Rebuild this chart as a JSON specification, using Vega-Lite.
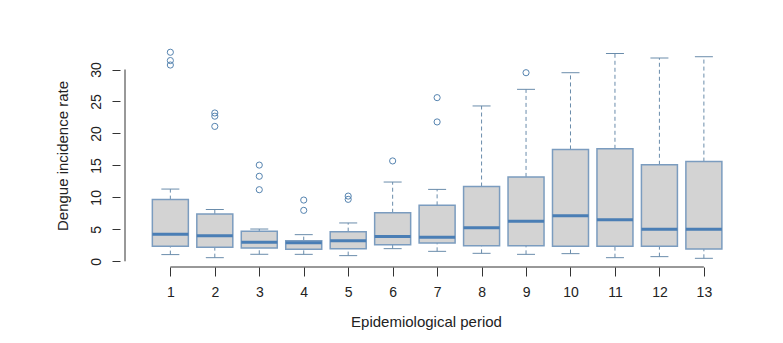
{
  "$schema": "https://vega.github.io/schema/vega-lite/v6.json",
  "width": 612,
  "height": 223,
  "autosize": {"type": "none"},
  "padding": {"left": 120, "top": 44, "right": 51, "bottom": 76},
  "background": "white",
  "config": {
    "view": {"stroke": null},
    "font": "Liberation Sans",
    "axis": {"grid": false, "domain": false, "labelFont": "Liberation Sans", "titleFont": "Liberation Sans", "labelColor": "#222", "titleColor": "#222", "tickColor": "#333", "titleFontWeight": "normal", "labelFontSize": 14, "titleFontSize": 15, "labelOverlap": false}
  },
  "datasets": {
    "boxes": [
      {"period": 1, "lower": 1.05, "q1": 2.35, "median": 4.25, "q3": 9.65, "upper": 11.3},
      {"period": 2, "lower": 0.57, "q1": 2.2, "median": 4.0, "q3": 7.4, "upper": 8.1},
      {"period": 3, "lower": 1.1, "q1": 2.1, "median": 3.0, "q3": 4.7, "upper": 5.05},
      {"period": 4, "lower": 1.09, "q1": 1.87, "median": 2.9, "q3": 3.23, "upper": 4.17},
      {"period": 5, "lower": 0.89, "q1": 1.98, "median": 3.23, "q3": 4.64, "upper": 6.0},
      {"period": 6, "lower": 1.98, "q1": 2.6, "median": 3.9, "q3": 7.6, "upper": 12.4},
      {"period": 7, "lower": 1.56, "q1": 2.86, "median": 3.75, "q3": 8.75, "upper": 11.25},
      {"period": 8, "lower": 1.25, "q1": 2.45, "median": 5.26, "q3": 11.7, "upper": 24.3},
      {"period": 9, "lower": 1.09, "q1": 2.45, "median": 6.25, "q3": 13.2, "upper": 26.9},
      {"period": 10, "lower": 1.2, "q1": 2.34, "median": 7.14, "q3": 17.5, "upper": 29.5},
      {"period": 11, "lower": 0.57, "q1": 2.34, "median": 6.5, "q3": 17.6, "upper": 32.5},
      {"period": 12, "lower": 0.73, "q1": 2.34, "median": 5.0, "q3": 15.1, "upper": 31.8},
      {"period": 13, "lower": 0.47, "q1": 1.93, "median": 5.0, "q3": 15.6, "upper": 32.0}
    ],
    "outliers": [
      {"period": 1, "value": 32.7},
      {"period": 1, "value": 31.4},
      {"period": 1, "value": 30.7},
      {"period": 2, "value": 23.2},
      {"period": 2, "value": 22.7},
      {"period": 2, "value": 21.1},
      {"period": 3, "value": 15.05},
      {"period": 3, "value": 13.3},
      {"period": 3, "value": 11.2},
      {"period": 4, "value": 9.58},
      {"period": 4, "value": 7.97},
      {"period": 5, "value": 10.2},
      {"period": 5, "value": 9.69},
      {"period": 6, "value": 15.7},
      {"period": 7, "value": 25.6},
      {"period": 7, "value": 21.8},
      {"period": 9, "value": 29.5}
    ]
  },
  "layer": [
    {
      "data": {"name": "boxes"},
      "mark": {"type": "rule", "color": "#6a8cab", "strokeDash": [4, 3], "strokeWidth": 1},
      "encoding": {
        "x": {"field": "period", "type": "quantitative", "scale": {"domain": [-0.02, 13.52], "nice": false, "zero": false},
          "axis": {"values": [1,2,3,4,5,6,7,8,9,10,11,12,13], "tickSize": 9, "labelPadding": 9, "title": "Epidemiological period", "titlePadding": 15, "labelFlush": false}},
        "y": {"field": "lower", "type": "quantitative", "scale": {"domain": [-0.89, 33.99], "nice": false, "zero": false},
          "axis": {"values": [0,5,10,15,20,25,30], "tickCount": 7, "tickSize": 8, "labelAngle": 270, "labelAlign": "center", "labelBaseline": "alphabetic", "labelPadding": 12, "labelOverlap": false, "title": "Dengue incidence rate", "titlePadding": 19}},
        "y2": {"field": "q1"}
      }
    },
    {
      "data": {"name": "boxes"},
      "mark": {"type": "rule", "color": "#6a8cab", "strokeDash": [4, 3], "strokeWidth": 1},
      "encoding": {
        "x": {"field": "period", "type": "quantitative"},
        "y": {"field": "q3", "type": "quantitative",
          "axis": {"values": [0,5,10,15,20,25,30], "tickCount": 7, "tickSize": 8, "labelAngle": 270, "labelAlign": "center", "labelBaseline": "alphabetic", "labelPadding": 12, "labelOverlap": false, "title": "Dengue incidence rate", "titlePadding": 19}},
        "y2": {"field": "upper"}
      }
    },
    {
      "data": {"name": "boxes"},
      "mark": {"type": "tick", "orient": "horizontal", "size": 18, "thickness": 1, "color": "#6a8cab", "opacity": 1},
      "encoding": {
        "x": {"field": "period", "type": "quantitative"},
        "y": {"field": "lower", "type": "quantitative",
          "axis": {"values": [0,5,10,15,20,25,30], "tickCount": 7, "tickSize": 8, "labelAngle": 270, "labelAlign": "center", "labelBaseline": "alphabetic", "labelPadding": 12, "labelOverlap": false, "title": "Dengue incidence rate", "titlePadding": 19}}
      }
    },
    {
      "data": {"name": "boxes"},
      "mark": {"type": "tick", "orient": "horizontal", "size": 18, "thickness": 1, "color": "#6a8cab", "opacity": 1},
      "encoding": {
        "x": {"field": "period", "type": "quantitative"},
        "y": {"field": "upper", "type": "quantitative",
          "axis": {"values": [0,5,10,15,20,25,30], "tickCount": 7, "tickSize": 8, "labelAngle": 270, "labelAlign": "center", "labelBaseline": "alphabetic", "labelPadding": 12, "labelOverlap": false, "title": "Dengue incidence rate", "titlePadding": 19}}
      }
    },
    {
      "data": {"name": "boxes"},
      "mark": {"type": "bar", "size": 36, "fill": "#d3d3d3", "stroke": "#7b9cbf", "strokeWidth": 1.5},
      "encoding": {
        "x": {"field": "period", "type": "quantitative"},
        "y": {"field": "q1", "type": "quantitative",
          "axis": {"values": [0,5,10,15,20,25,30], "tickCount": 7, "tickSize": 8, "labelAngle": 270, "labelAlign": "center", "labelBaseline": "alphabetic", "labelPadding": 12, "labelOverlap": false, "title": "Dengue incidence rate", "titlePadding": 19}},
        "y2": {"field": "q3"}
      }
    },
    {
      "data": {"name": "boxes"},
      "mark": {"type": "tick", "orient": "horizontal", "size": 36, "thickness": 3, "color": "#4a7eb5", "opacity": 1},
      "encoding": {
        "x": {"field": "period", "type": "quantitative"},
        "y": {"field": "median", "type": "quantitative",
          "axis": {"values": [0,5,10,15,20,25,30], "tickCount": 7, "tickSize": 8, "labelAngle": 270, "labelAlign": "center", "labelBaseline": "alphabetic", "labelPadding": 12, "labelOverlap": false, "title": "Dengue incidence rate", "titlePadding": 19}}
      }
    },
    {
      "data": {"name": "outliers"},
      "mark": {"type": "point", "shape": "circle", "filled": false, "size": 38, "strokeWidth": 1, "color": "#5684b0", "opacity": 1},
      "encoding": {
        "x": {"field": "period", "type": "quantitative"},
        "y": {"field": "value", "type": "quantitative",
          "axis": {"values": [0,5,10,15,20,25,30], "tickCount": 7, "tickSize": 8, "labelAngle": 270, "labelAlign": "center", "labelBaseline": "alphabetic", "labelPadding": 12, "labelOverlap": false, "title": "Dengue incidence rate", "titlePadding": 19}}
      }
    },
    {
      "data": {"values": [{}]},
      "mark": {"type": "rule", "color": "#333", "strokeWidth": 1},
      "encoding": {
        "x": {"datum": 1, "type": "quantitative"},
        "x2": {"datum": 13},
        "y": {"datum": -0.89, "type": "quantitative",
          "axis": {"values": [0,5,10,15,20,25,30], "tickCount": 7, "tickSize": 8, "labelAngle": 270, "labelAlign": "center", "labelBaseline": "alphabetic", "labelPadding": 12, "labelOverlap": false, "title": "Dengue incidence rate", "titlePadding": 19}}
      }
    },
    {
      "data": {"values": [{}]},
      "mark": {"type": "rule", "color": "#333", "strokeWidth": 1},
      "encoding": {
        "x": {"datum": -0.02, "type": "quantitative"},
        "y": {"datum": 0, "type": "quantitative",
          "axis": {"values": [0,5,10,15,20,25,30], "tickCount": 7, "tickSize": 8, "labelAngle": 270, "labelAlign": "center", "labelBaseline": "alphabetic", "labelPadding": 12, "labelOverlap": false, "title": "Dengue incidence rate", "titlePadding": 19}},
        "y2": {"datum": 30}
      }
    }
  ]
}
